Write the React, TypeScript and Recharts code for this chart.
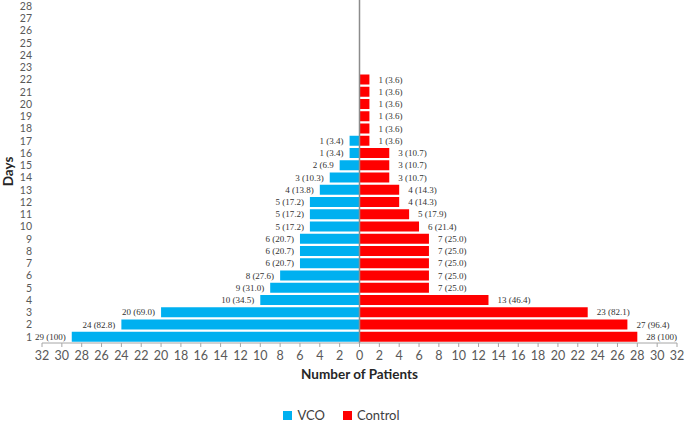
import { BarChart, Bar, XAxis, YAxis, Legend, ReferenceLine, LabelList, Label } from 'recharts';

const days = [1, 2, 3, 4, 5, 6, 7, 8, 9, 10, 11, 12, 13, 14, 15, 16, 17, 18, 19, 20, 21, 22, 23, 24, 25, 26, 27, 28];
const vcoCounts = [29, 24, 20, 10, 9, 8, 6, 6, 6, 5, 5, 5, 4, 3, 2, 1, 1, 0, 0, 0, 0, 0, 0, 0, 0, 0, 0, 0];
const vcoLabels = ['29 (100)', '24 (82.8)', '20 (69.0)', '10 (34.5)', '9 (31.0)', '8 (27.6)', '6 (20.7)', '6 (20.7)', '6 (20.7)', '5 (17.2)', '5 (17.2)', '5 (17.2)', '4 (13.8)', '3 (10.3)', '2 (6.9', '1 (3.4)', '1 (3.4)'];
const controlCounts = [28, 27, 23, 13, 7, 7, 7, 7, 7, 6, 5, 4, 4, 3, 3, 3, 1, 1, 1, 1, 1, 1, 0, 0, 0, 0, 0, 0];
const controlLabels = ['28 (100)', '27 (96.4)', '23 (82.1)', '13 (46.4)', '7 (25.0)', '7 (25.0)', '7 (25.0)', '7 (25.0)', '7 (25.0)', '6 (21.4)', '5 (17.9)', '4 (14.3)', '4 (14.3)', '3 (10.7)', '3 (10.7)', '3 (10.7)', '1 (3.6)', '1 (3.6)', '1 (3.6)', '1 (3.6)', '1 (3.6)', '1 (3.6)'];
const xTicks = [-32, -30, -28, -26, -24, -22, -20, -18, -16, -14, -12, -10, -8, -6, -4, -2, 0, 2, 4, 6, 8, 10, 12, 14, 16, 18, 20, 22, 24, 26, 28, 30, 32];
const series = [
  { key: 'vco', name: 'VCO', color: '#00B0F0' },
  { key: 'control', name: 'Control', color: '#FF0000' },
];

const data = days.map((d, i) => ({
  day: d,
  vco: -vcoCounts[i],
  control: controlCounts[i],
  vcoLabel: vcoCounts[i] ? vcoLabels[i] : '',
  controlLabel: controlCounts[i] ? controlLabels[i] : '',
}));

const FONT = 'Lato, "Liberation Sans", sans-serif';

// data label beside the bar end, left for VCO, right for Control
const barLabel = (side: 'left' | 'right') => (props: any) => {
  const { x, y, width, height, value } = props;
  if (!value) return null;
  const l = Math.min(x, x + width);
  const r = Math.max(x, x + width);
  return (
    <text
      x={side === 'left' ? l - 6 : r + 9}
      y={y + height / 2 + 1}
      textAnchor={side === 'left' ? 'end' : 'start'}
      dominantBaseline="middle"
      fontFamily='"Liberation Serif", serif'
      fontSize={9}
      fill="#333"
    >
      {value}
    </text>
  );
};

const LegendBox = () => (
  <div style={{ display: 'flex', justifyContent: 'center', gap: 18, fontSize: 13, fontFamily: FONT, color: '#404040', paddingLeft: 6 }}>
    {series.map(s => (
      <span key={s.key} style={{ display: 'flex', alignItems: 'center', gap: 5 }}>
        <span style={{ width: 9, height: 9, background: s.color, display: 'inline-block' }} />
        {s.name}
      </span>
    ))}
  </div>
);

export default function App() {
  return (
    <div style={{ position: 'absolute', left: 0, top: 0, width: 686, height: 424, background: '#fff' }}>
      <BarChart
        width={686}
        height={424}
        data={data}
        layout="vertical"
        stackOffset="sign"
        margin={{ top: 0, right: 9, left: 0, bottom: 1 }}
        barSize={10}
      >
        <XAxis
          type="number"
          domain={[-32, 32]}
          ticks={xTicks}
          interval={0}
          tickFormatter={v => String(Math.abs(v))}
          tick={{ fill: '#595959', fontSize: 12.5, fontFamily: FONT }}
          stroke="#a6a6a6"
          tickSize={4}
          tickMargin={4}
          height={64}
        >
          <Label
            content={(p: any) => (
              <text
                x={p.viewBox.x + p.viewBox.width / 2}
                y={p.viewBox.y + 33}
                textAnchor="middle"
                dominantBaseline="middle"
                fontFamily={FONT}
                fontWeight="bold"
                fontSize={13.5}
                fill="#262626"
              >
                Number of Patients
              </text>
            )}
          />
        </XAxis>
        <YAxis
          type="category"
          dataKey="day"
          reversed
          axisLine={false}
          tickLine={false}
          interval={0}
          width={42}
          tickMargin={4}
          tick={{ fill: '#595959', fontSize: 10.5, fontFamily: FONT }}
        >
          <Label
            content={(p: any) => (
              <text
                x={10}
                y={p.viewBox.y + p.viewBox.height / 2}
                textAnchor="middle"
                dominantBaseline="middle"
                fontFamily={FONT}
                fontWeight="bold"
                fontSize={13.5}
                fill="#262626"
                transform={`rotate(-90 10 ${p.viewBox.y + p.viewBox.height / 2})`}
              >
                Days
              </text>
            )}
          />
        </YAxis>
        <Bar dataKey="vco" name="VCO" stackId="a" fill="#00B0F0" isAnimationActive={false}>
          <LabelList dataKey="vcoLabel" content={barLabel('left')} />
        </Bar>
        <Bar dataKey="control" name="Control" stackId="a" fill="#FF0000" isAnimationActive={false}>
          <LabelList dataKey="controlLabel" content={barLabel('right')} />
        </Bar>
        <ReferenceLine x={0} stroke="#8c8c8c" strokeWidth={1.5} />
        <Legend content={<LegendBox />} />
      </BarChart>
    </div>
  );
}
